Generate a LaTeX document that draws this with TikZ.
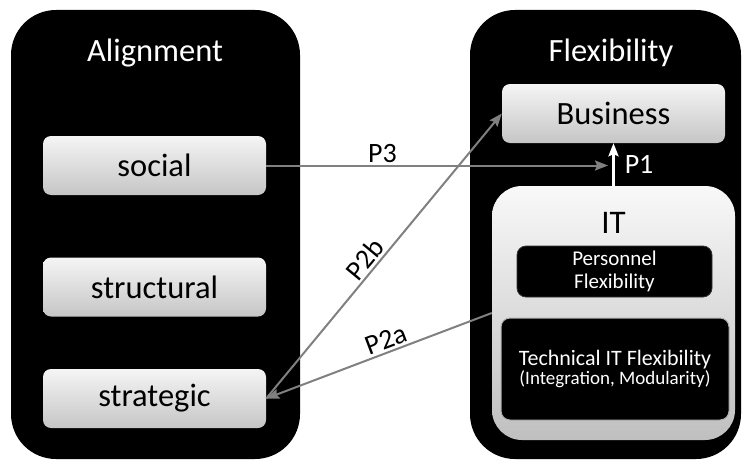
\documentclass[tikz,border=0pt]{standalone}
\usepackage{fontspec}
\setmainfont{Carlito}
\usetikzlibrary{arrows.meta}
\begin{document}
\begin{tikzpicture}[x=1pt,y=-1pt,
  panel/.style={fill=black, rounded corners=45pt, inner sep=0pt, minimum height=449pt},
  title/.style={text=white, font=\fontsize{32.5}{38}\selectfont, anchor=base},
  lightbox/.style={rounded corners=8pt, top color=gray!8, bottom color=gray!45,
    minimum width=223pt, minimum height=59pt, inner sep=0pt, font=\fontsize{32.5}{38}\selectfont},
  darkbox/.style={fill=black, rounded corners=9pt, text=white, align=center, inner sep=0pt},
  conn/.style={draw=gray, line width=2pt, -{Stealth[length=13pt,width=10pt,inset=2pt]}},
  plabel/.style={text=black, font=\fontsize{28}{32}\selectfont, inner sep=2pt}]
\useasboundingbox (0,0) rectangle (746,460);
% panels
\node[panel, minimum width=289pt] (left) at (155.5,234.5) {};
\node[panel, minimum width=271pt] (right) at (605.5,234.5) {};
\node[title] (altitle) at (155,62) {Alignment};
\node[title] (fltitle) at (611,62) {Flexibility};
% alignment boxes
\node[lightbox] (social) at (154.5,165.5) {social};
\node[lightbox] (structural) at (154.5,287) {structural};
\node[lightbox] (strategic) at (154.5,398.5) {strategic};
% flexibility
\node[lightbox] (business) at (613.5,113.5) {Business};
\node[rounded corners=30pt, top color=gray!5, bottom color=gray!50,
  minimum width=243pt, minimum height=254pt, inner sep=0pt] (it) at (613.5,313) {};
\node[font=\fontsize{33}{38}\selectfont, anchor=base] (ittitle) at (613.5,233) {IT};
\node[darkbox, draw=gray!40!black, line width=0.8pt, minimum width=195pt, minimum height=51pt,
  font=\fontsize{21}{23}\selectfont] (personnel) at (614.5,271.5) {Personnel\\Flexibility};
\node[darkbox, draw=gray!60, line width=1pt, minimum width=228pt, minimum height=102pt]
  (technical) at (615,369) {\fontsize{22}{23}\selectfont Technical IT Flexibility\\[0pt]{\fontsize{19}{23}\selectfont (Integration, Modularity)}};
% connectors
\coordinate (p3end) at (608,165.5);
\draw[conn] (social.east) -- (p3end) node[plabel, pos=0.34, above] (p3) {P3};
\draw[conn, draw=white, line width=2.5pt] (it.north) -- (business.south)
  node[plabel, text=white, pos=0.5, right, xshift=8pt] (p1) {P1};
\draw[conn] (strategic.east) -- (business.west) node[plabel, pos=0.46, above, sloped] (p2b) {P2b};
\draw[conn, {Stealth[length=13pt,width=10pt,inset=2pt]}-] (strategic.east) -- (it.west)
  node[plabel, pos=0.55, above, sloped] (p2a) {P2a};
\end{tikzpicture}
\end{document}
